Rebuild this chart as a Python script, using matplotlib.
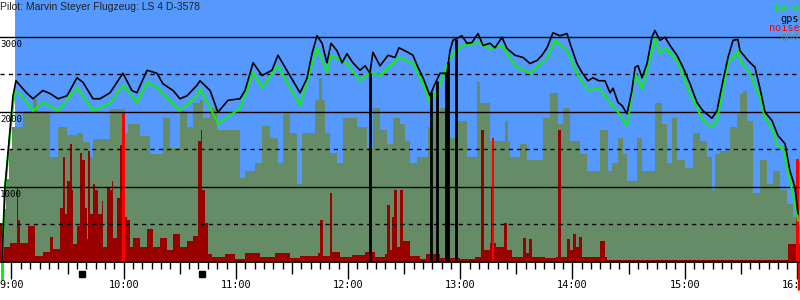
import matplotlib
matplotlib.use('Agg')
import matplotlib.pyplot as plt
import matplotlib.transforms as mtransforms
import numpy as np

# tempo em minutos depois das 9:00, altitude em m
titulo = 'Pilot: Marvin Steyer Flugzeug: LS 4 D-3578'
horas = ['9:00', '10:00', '11:00', '12:00', '13:00', '14:00', '15:00', '16:00']
alt_labels = [1000, 2000, 3000]

gps_t = [-5.1, -3.5, -0.8, 0.8, 2.4, 4.5, 8, 11.5, 16.8, 20.6, 24.9, 29.7, 35.0, 38.2, 43.6, 47.3,
         52.7, 59.6, 64.4, 67.1, 72.5, 77.8, 81.0, 86.4, 90.1, 93.9, 99.2, 100.8, 106.2, 110.4,
         115.8, 122.2, 124.9, 129.2, 134.0, 139.3, 142.5, 146.3, 150.5, 154.3, 158.0, 160.7,
         163.4, 166.1, 168.7, 170.9, 174.1, 176.8, 179.4, 182.6, 186.4, 189.1, 191.7, 193.3,
         197.1, 201.4, 205.1, 207.2, 212.0, 214.7, 217.4, 220.1, 223.8, 226.5, 229.2, 232.9,
         234.5, 236.1, 240.9, 243.6, 246.3, 249.5, 252.2, 255.9, 258.6, 262.3, 265.0, 269.3,
         273.6, 277.3, 281.0, 283.7, 286.4, 289.6, 293.3, 297.1, 298.7, 302.4, 305.1, 308.3,
         311.0, 314.2, 317.4, 320.1, 321.7, 324.4, 326.5, 329.2, 331.8, 333.5, 335.1, 337.2,
         339.9, 342.5, 344.1, 346.8, 349.5, 352.2, 355.9, 359.1, 362.9, 366.6, 369.8, 374.6,
         377.3, 380.5, 383.2, 385.9, 388.5, 389.6, 393.9, 397.6, 400.3, 403.0, 406.7, 409.9,
         413.7, 416.3, 419.0, 420.6]
gps_v = [0, 990, 1750, 2210, 2410, 2350, 2250, 2170, 2280, 2240, 2170, 2210, 2450, 2390, 2170, 2170,
         2250, 2510, 2280, 2250, 2550, 2510, 2370, 2280, 2170, 2210, 2350, 2410, 2280, 1990,
         2150, 2170, 2280, 2650, 2480, 2550, 2750, 2590, 2410, 2250, 2440, 2770,
         3010, 2910, 2650, 2910, 2810, 2650, 2770, 2650, 2550, 2610, 2510, 2790,
         2610, 2750, 2720, 2850, 2790, 2750, 2590, 2450, 2210, 2370, 2510, 2510,
         2810, 2950, 3010, 2910, 2920, 3040, 2880, 2910, 2850, 2990, 2840, 2750,
         2720, 2640, 2680, 2750, 2850, 3050, 3010, 3040, 2910, 2640, 2520, 2410,
         2450, 2410, 2410, 2250, 2310, 2120, 2080, 1970, 2280, 2590, 2610, 2450,
         2640, 2990, 3080, 2950, 2990, 2880, 2750, 2590, 2370, 2120, 2010, 1910,
         2010, 2410, 2720, 2950, 2960, 2810, 2680, 2590, 2310, 1990, 1880, 1680,
         1570, 1210, 990, 640]

baro_t = [-5.1, -3.5, -0.8, 0.8, 1.9, 4.5, 11.5, 16.8, 24.9, 35.0, 43.6, 52.7, 59.6, 67.1, 72.5,
          77.8, 90.1, 99.2, 100.8, 110.4, 122.2, 129.2, 134.0, 142.5, 154.3, 163.4, 168.7,
          170.9, 179.4, 186.4, 191.7, 197.1, 207.2, 214.7, 220.1, 223.8, 229.2, 234.5, 240.9,
          249.5, 255.9, 262.3, 269.3, 277.3, 286.4, 290.7, 297.1, 302.4, 308.3, 314.2, 320.1,
          324.4, 329.2, 333.5, 337.2, 344.1, 346.8, 349.5, 355.9, 362.9, 369.8, 374.6, 377.3,
          383.2, 388.5, 389.6, 394.9, 400.3, 403.0, 407.3, 409.4, 412.6, 416.3, 419.0, 420.6]
baro_v = [0, 950, 1680, 2080, 2250, 2240, 2010, 2120, 2010, 2320, 2010, 2110, 2350, 2120, 2390,
          2320, 2010, 2210, 2310, 1840, 2040, 2520, 2320, 2610, 2080, 2850, 2520,
          2750, 2640, 2410, 2520, 2480, 2720, 2640, 2370, 2110, 2370, 2720, 2880,
          2920, 2840, 2880, 2610, 2510, 2710, 2950, 2810, 2510, 2280, 2310, 2120,
          1990, 1810, 2510, 2310, 2970, 2770, 2850, 2680, 2240, 1880, 1790, 1880,
          2640, 2810, 2680, 2510, 2190, 1920, 1750, 1550, 1520, 1080, 770, 550]

gnd_t = [-6.2, -4.5, -2.9, -1.3, 0.3, 1.9, 6.1, 11.5, 13.6, 20.6, 24.9, 29.7, 35.0, 38.2, 42.0,
         43.6, 52.7, 60.7, 62.3, 68.7, 74.1, 81.0, 84.8, 90.1, 93.9, 97.1, 100.8, 102.4, 106.2,
         109.9, 122.2, 124.9, 130.2, 134.0, 138.2, 142.5, 145.2, 149.0, 152.7, 155.4, 162.3,
         164.5, 166.1, 167.7, 170.3, 174.1, 177.3, 184.8, 190.1, 193.3, 197.1, 200.8, 204.0,
         207.8, 210.4, 213.1, 216.9, 222.7, 225.4, 229.2, 234.5, 238.3, 243.6, 249.0, 250.6,
         255.9, 264.0, 265.5, 266.6, 272.0, 275.7, 284.2, 288.0, 292.3, 295.0, 298.7, 304.0,
         307.8, 314.7, 319.0, 321.2, 324.4, 327.0, 329.2, 334.5, 337.2, 344.1, 347.9, 350.6,
         353.2, 355.9, 360.2, 364.5, 368.2, 372.0, 374.6, 376.2, 378.9, 384.3, 388.0, 389.6,
         391.2, 393.3, 396.6, 400.3, 404.0, 407.3, 411.0, 414.7, 417.9, 420.6]
gnd_v = [480, 700, 1100, 1500, 1800, 1790, 2010, 2170, 2010, 1390, 1790, 1690, 1720, 1590, 1390,
         1640, 2040, 1720, 1830, 1680, 1440, 1920, 1520, 2010, 1790, 2110, 2150, 1920, 2050,
         1750, 1120, 1210, 1310, 1810, 1650, 1310, 1970, 1710, 1040, 1710, 2150,
         2450, 2150, 1710, 1450, 1310, 1920, 1790, 1520, 2050, 1750, 1570, 1920,
         1840, 1610, 1310, 1390, 1790, 1970, 2050, 1650, 1880, 1390, 2390, 2110,
         1610, 1880, 1610, 1390, 1570, 1350, 1920, 2250, 1840, 2050, 1610, 1440,
         1210, 1750, 1210, 1310, 1650, 1440, 1080, 1650, 1210, 2110, 1840, 1310,
         1920, 1350, 1250, 1710, 1610, 1390, 950, 1440, 1480, 1790, 1970, 2240,
         2280, 1880, 910, 1350, 1040, 1210, 950, 770, 590, 0]

noise_t = [-6.2, -4.5, -0.8, 3.0, 3.5, 4.5, 8.8, 12.6, 16.8, 20.6, 22.2, 26.0, 27.5, 28.6, 29.7,
           31.3, 32.4, 32.9, 35.0, 36.6, 37.7, 39.3, 40.4, 40.9, 42.0, 43.6, 44.7, 46.3, 48.4,
           49.0, 51.1, 52.7, 53.7, 54.3, 56.4, 58.0, 59.1, 59.6, 61.8, 63.4, 65.0, 68.7, 72.5,
           75.7, 79.4, 83.2, 86.4, 90.1, 93.9, 97.1, 99.7, 101.3, 101.9, 103.5, 105.1, 107.2,
           114.2, 119.5, 124.9, 132.9, 141.0, 149.0, 154.3, 163.9, 165.0, 166.6, 170.3, 171.4,
           175.7, 182.1, 189.1, 194.4, 199.7, 201.0, 202.3, 203.5, 204.6, 206.0, 207.8, 209.4,
           213.1, 218.5, 221.7, 229.2, 239.9, 247.9, 251.1, 252.7, 255.9, 256.4, 257.5, 259.1,
           263.4, 265.0, 267.7, 273.6, 275.0, 276.5, 278.4, 285.3, 291.2, 292.3, 293.9, 297.1,
           298.7, 300.4, 302.0, 303.5, 305.1, 314.7, 317.4, 318.5, 415.3, 421.7]
noise_v = [510, 200, 250, 990, 560, 250, 480, 80, 130, 330, 170, 710, 1390, 640, 1080,
           1570, 950, 240, 480, 1450, 1350, 720, 300, 1480, 640, 1040, 950, 640, 810,
           200, 990, 950, 1080, 320, 850, 1550, 990, 600, 560, 200, 320, 200, 440,
           200, 310, 150, 370, 200, 280, 340, 1610, 1750, 950, 510, 100, 60,
           100, 40, 110, 60, 110, 50, 80, 120, 550, 80, 910, 130,
           60, 90, 130, 60, 100, 750, 150, 600, 950, 200, 950, 280,
           80, 40, 100, 50, 30, 60, 1750, 150, 250, 1000, 250, 200,
           510, 150, 60, 320, 120, 300, 60, 50, 60, 1750, 60, 300,
           150, 370, 200, 330, 60, 280, 60, 25, 240, 240]

noise_hi_t = [59.9, 257.5, 420.4]
noise_hi_v = [2000, 1650, 1370]

gps_falha_t = [191.7, 224.6, 227.3, 232.4, 233.7, 237.5]
marcas_t = [37.7, 101.9]

legenda = [('baro', '#11ee11'), ('gps', 'black'), ('noise', '#ff0000'), ('gnd', '#6f8a66')]

AZUL = '#5599ff'
VERDE_GND = '#668c67'
VERMELHO = '#990000'
MONO = 'DejaVu Sans Mono'

fig = plt.figure(figsize=(8, 3), dpi=100)
ax = fig.add_axes([0, 38.5 / 300, 1, 261.5 / 300])
ax.set_xlim(-6.15, 421.7)
ax.set_ylim(0, 3487)
ax.set_facecolor('white')
ax.axvspan(1.9, 421.7, color=AZUL, lw=0, zorder=0)

ax.fill_between(gnd_t, gnd_v, step='post', color=VERDE_GND, lw=0, zorder=1)
ax.fill_between(noise_t, noise_v, step='post', color=VERMELHO, lw=0, zorder=2)
ax.bar(noise_hi_t, noise_hi_v, width=1.3, color='#ff0000', lw=0, zorder=2)

for v in [1000, 2000, 3000]:
    ax.axhline(v, color='black', lw=1, zorder=3)
for v in [500, 1500, 2500]:
    ax.axhline(v, color='black', lw=1, ls=(0, (3, 3)), zorder=3)

ax.plot(baro_t, baro_v, color='#11ee11', lw=1.5, zorder=4)
ax.plot(gps_t, gps_v, color='black', lw=1.2, zorder=5)
ax.vlines(gps_falha_t, 0, np.interp(gps_falha_t, gps_t, gps_v), color='black', lw=2, zorder=5)

for s in ['top', 'left', 'right']:
    ax.spines[s].set_visible(False)
ax.spines['bottom'].set_linewidth(1.3)
ax.set_xticks([])
ax.set_yticks([])

# marcas do eixo: 5 min, meia hora, hora
tr = ax.get_xaxis_transform()
minutos = np.arange(-5, 425, 5)
menores = [m for m in minutos if m % 30 != 0]
meias = [m for m in minutos if m % 30 == 0 and m % 60 != 0]
cheias = [m for m in minutos if m % 60 == 0]
ax.vlines(menores, -7 / 261.5, 0, transform=tr, color='black', lw=1, clip_on=False)
ax.vlines(meias, -12 / 261.5, 0, transform=tr, color='black', lw=1, clip_on=False)
ax.vlines(cheias, -17.5 / 261.5, 0, transform=tr, color='black', lw=1, clip_on=False)
for m, lab in zip(cheias, horas):
    ax.text(m, -23.5 / 261.5, lab, transform=tr, ha='center', va='center',
            fontsize=7.4, family=MONO, clip_on=False)

ax.plot(marcas_t, [-12 / 261.5] * len(marcas_t), 's', color='black', ms=4.8,
        transform=tr, clip_on=False)
ax.vlines([-5.3], -18 / 261.5, 0, transform=tr, color='#00ee00', lw=2, clip_on=False)
ax.vlines([420.9], -28 / 261.5, 0, transform=tr, color='#ff0000', lw=2.5, clip_on=False)

# rótulos de altitude
off = mtransforms.offset_copy(ax.get_yaxis_transform(), fig=fig, x=0, y=-3, units='dots')
for v in alt_labels:
    ax.text(0.0, v, str(v), transform=off, ha='left', va='top', fontsize=6.6,
            family=MONO, zorder=6)

ax.text(0.0, 1 - 9.5 / 261.5, titulo, transform=ax.transAxes, ha='left', va='baseline',
        fontsize=7.5, family='Liberation Sans', color='#222222', zorder=6)

for i, (nome, cor) in enumerate(legenda):
    ax.text(0.999, 1 - (12 + 9.5 * i) / 261.5, nome, transform=ax.transAxes, ha='right',
            va='baseline', fontsize=7.4, family=MONO, color=cor, zorder=6)

fig.savefig('out.png', dpi=100)
